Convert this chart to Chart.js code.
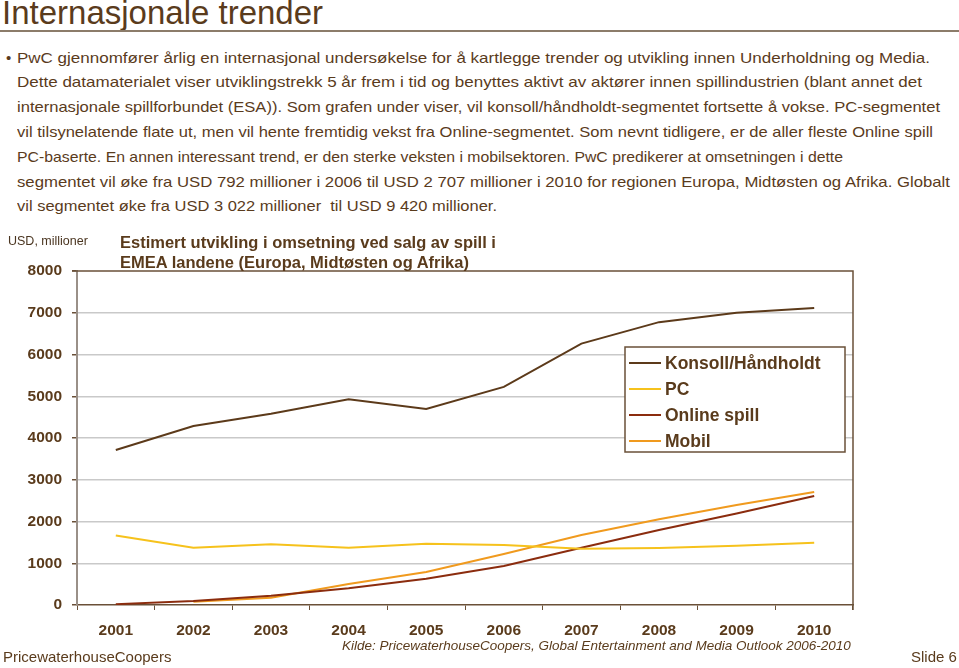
<!DOCTYPE html>
<html>
<head>
<meta charset="utf-8">
<script src="https://cdn.jsdelivr.net/npm/chart.js@4.4.1/dist/chart.umd.min.js"></script>
<style>
  html,body{margin:0;padding:0;background:#fff;}
  body{width:959px;height:668px;position:relative;overflow:hidden;font-family:"Liberation Sans",Arial,sans-serif;color:#5a3b1c;}
  #c{position:absolute;left:0;top:0;}
  .t{position:absolute;white-space:nowrap;transform-origin:0 50%;}
  #title{left:2px;top:-6px;font-size:33px;color:#5a3b1c;}
  #rule{position:absolute;left:0;top:30px;width:959px;height:2px;background:#8c7c6a;}
  .b{font-size:15px;color:#5a3b1c;line-height:18px;}
  #unit{left:8px;top:234px;font-size:12.5px;color:#4a3520;}
  .ct{font-size:16.5px;font-weight:bold;color:#5a3b1c;}
  #foot{left:3px;top:648px;font-size:15px;}
  #slide{left:911px;top:648px;font-size:15px;}
  #src{left:342px;top:638px;font-size:13.5px;font-style:italic;}
</style>
</head>
<body>
<div id="title" class="t">Internasjonale trender</div>
<div id="rule"></div>
<div class="t b" style="left:6px;top:49px;">•</div>
<div class="t b fit" data-w="913" style="left:17px;top:49px;">PwC gjennomfører årlig en internasjonal undersøkelse for å kartlegge trender og utvikling innen Underholdning og Media.</div>
<div class="t b fit" data-w="905" style="left:17px;top:73px;">Dette datamaterialet viser utviklingstrekk 5 år frem i tid og benyttes aktivt av aktører innen spillindustrien (blant annet det</div>
<div class="t b fit" data-w="923" style="left:17px;top:98px;">internasjonale spillforbundet (ESA)). Som grafen under viser, vil konsoll/håndholdt-segmentet fortsette å vokse. PC-segmentet</div>
<div class="t b fit" data-w="916" style="left:17px;top:123px;">vil tilsynelatende flate ut, men vil hente fremtidig vekst fra Online-segmentet. Som nevnt tidligere, er de aller fleste Online spill</div>
<div class="t b fit" data-w="826" style="left:17px;top:148px;">PC-baserte. En annen interessant trend, er den sterke veksten i mobilsektoren. PwC predikerer at omsetningen i dette</div>
<div class="t b fit" data-w="933" style="left:17px;top:173px;">segmentet vil øke fra USD 792 millioner i 2006 til USD 2 707 millioner i 2010 for regionen Europa, Midtøsten og Afrika. Globalt</div>
<div class="t b fit" data-w="480" style="left:17px;top:197px;">vil segmentet øke fra USD 3 022 millioner&nbsp; til USD 9 420 millioner.</div>

<canvas id="c" width="959" height="668"></canvas>

<div id="unit" class="t">USD, millioner</div>
<div class="t ct" style="left:120px;top:233px;">Estimert utvikling i omsetning ved salg av spill i</div>
<div class="t ct" style="left:120px;top:253px;">EMEA landene (Europa, Midtøsten og Afrika)</div>
<div id="src" class="t">Kilde: PricewaterhouseCoopers, Global Entertainment and Media Outlook 2006-2010</div>
<div id="foot" class="t">PricewaterhouseCoopers</div>
<div id="slide" class="t">Slide 6</div>

<script>
// ---- data ----
const years = ["2001","2002","2003","2004","2005","2006","2007","2008","2009","2010"];
const konsoll = [3712, 4287, 4580, 4930, 4695, 5225, 6260, 6775, 7000, 7114];
const pc      = [1665, 1373, 1453, 1373, 1469, 1437, 1349, 1365, 1421, 1493];
const online  = [20, 96, 223, 399, 630, 934, 1370, 1796, 2190, 2611];
const mobil   = [null, 80, 175, 503, 792, 1220, 1677, 2052, 2395, 2707];
const seriesNames = ["Konsoll/Håndholdt", "PC", "Online spill", "Mobil"];
const yTicks = [0, 1000, 2000, 3000, 4000, 5000, 6000, 7000, 8000];

// fit bullet lines to measured widths
document.querySelectorAll('.fit').forEach(el => {
  const w = el.getBoundingClientRect().width;
  const target = +el.dataset.w;
  el.style.transform = 'scaleX(' + (target / w) + ')';
});

const BROWN = '#5a3b1c';
const colors = ['#5c3a1a', '#f6c21c', '#8b2c0e', '#f09a1e'];

const framePlugin = {
  id: 'frame',
  afterDatasetsDraw(chart) {
    const {ctx, chartArea: a} = chart;
    ctx.save();
    ctx.strokeStyle = '#6a5038';
    ctx.lineWidth = 1.5;
    ctx.beginPath();
    ctx.moveTo(a.left - 5, a.top);
    ctx.lineTo(a.right, a.top);
    ctx.lineTo(a.right, a.bottom + 5);
    ctx.stroke();
    const lx = 625, ly = 347, lw = 220, lh = 105;
    ctx.fillStyle = '#fff';
    ctx.fillRect(lx, ly, lw, lh);
    ctx.strokeStyle = '#6a5038';
    ctx.lineWidth = 1.5;
    ctx.strokeRect(lx, ly, lw, lh);
    ctx.font = 'bold 17.5px "Liberation Sans", Arial, sans-serif';
    ctx.textBaseline = 'middle';
    chart.data.datasets.forEach((ds, i) => {
      const y = ly + 16 + i * 26;
      ctx.strokeStyle = ds.borderColor;
      ctx.lineWidth = 2;
      ctx.beginPath();
      ctx.moveTo(lx + 4, y);
      ctx.lineTo(lx + 36, y);
      ctx.stroke();
      ctx.fillStyle = BROWN;
      ctx.fillText(ds.label, lx + 40, y + 1);
    });
    ctx.restore();
  }
};

const mk = (i, data) => ({
  label: seriesNames[i], data, borderColor: colors[i], backgroundColor: colors[i],
  borderWidth: 2, pointRadius: 0, tension: 0, fill: false, spanGaps: false
});

new Chart(document.getElementById('c'), {
  type: 'line',
  data: {
    labels: years,
    datasets: [mk(0, konsoll), mk(1, pc), mk(2, online), mk(3, mobil)]
  },
  options: {
    responsive: false,
    animation: false,
    layout: { padding: { left: 0, right: 106, top: 271, bottom: 20 } },
    plugins: { legend: { display: false }, tooltip: { enabled: false } },
    scales: {
      x: {
        type: 'category',
        offset: true,
        grid: { offset: true, drawOnChartArea: false, drawTicks: true, tickLength: 5, tickColor: '#6a5038', lineWidth: 1 },
        border: { display: true, color: '#6a5038', width: 1.5 },
        ticks: { color: BROWN, padding: 11, font: { family: '"Liberation Sans", Arial, sans-serif', size: 15.5, weight: 'bold' }, maxRotation: 0, autoSkip: false },
        afterFit(s) { s.height = 43; }
      },
      y: {
        min: 0, max: 8000,
        afterBuildTicks(s) { s.ticks = yTicks.map(v => ({ value: v })); },
        grid: {
          color: ctx => (ctx.tick && (ctx.tick.value === 0 || ctx.tick.value === 8000)) ? 'rgba(0,0,0,0)' : '#c9c9c9',
          tickColor: '#6a5038', tickLength: 5, lineWidth: 1.5
        },
        border: { display: true, color: '#9a9088', width: 2 },
        ticks: {
          color: BROWN, padding: 10,
          font: { family: '"Liberation Sans", Arial, sans-serif', size: 15.5, weight: 'bold' },
          callback: v => String(v)
        },
        afterFit(s) { s.width = 77; }
      }
    }
  },
  plugins: [framePlugin]
});
</script>
</body>
</html>
